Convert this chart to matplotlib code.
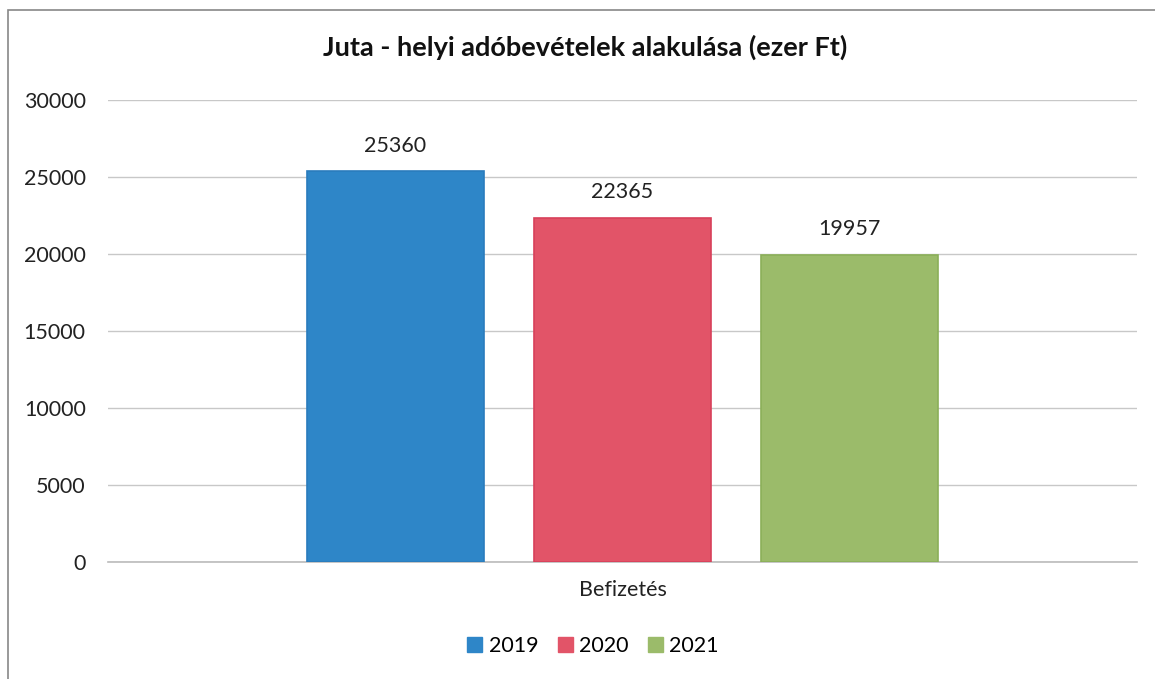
import matplotlib
matplotlib.use("Agg")
import matplotlib.pyplot as plt
from matplotlib.patches import Rectangle, Patch

categories = ["Befizetés"]
years = ["2019", "2020", "2021"]
values = [25360, 22365, 19957]
colors = ["#2E86C8", "#E25468", "#9BBB6A"]
edges = ["#2A7CBD", "#D8405A", "#8BAF58"]
yticks = [0, 5000, 10000, 15000, 20000, 25000, 30000]

plt.rcParams['font.family'] = ['Lato', 'DejaVu Sans']

fig = plt.figure(figsize=(11.55, 6.79), dpi=100)
ax = fig.add_axes([108/1155, 1-562/679, 1029/1155, 462/679])

offsets = [-0.221, 0.0, 0.221]
width = 0.172
fs = 15.5
for yr, v, c, e, off in zip(years, values, colors, edges, offsets):
    ax.bar(0 + off, v, width=width, color=c, edgecolor=e, linewidth=1.2, label=yr, zorder=3)
    ax.text(0 + off, v + 1000, str(v), ha='center', va='bottom', fontsize=fs, color='#222222')

ax.set_xlim(-0.5, 0.5)
ax.set_ylim(0, 30000)
ax.set_yticks(yticks)
ax.set_yticklabels([str(t) for t in yticks], fontsize=fs, color='#222222')
ax.set_xticks([0])
ax.set_xticklabels(categories, fontsize=fs, color='#222222')
ax.tick_params(axis='y', length=0, pad=16)
ax.tick_params(axis='x', length=0, pad=13)
ax.grid(axis='y', color='#C8C8C8', linewidth=1, zorder=0)
for s in ['top', 'right', 'left']:
    ax.spines[s].set_visible(False)
ax.spines['bottom'].set_color('#BBBBBB')
ax.spines['bottom'].set_linewidth(1.2)

fig.text(585/1155, 1-47/679, "Juta - helyi adóbevételek alakulása (ezer Ft)",
         ha='center', va='center', fontsize=19.5, fontweight='bold', color='#111111')

handles = [Patch(facecolor=c, edgecolor=c) for c in colors]
fig.legend(handles, years, loc='center', bbox_to_anchor=(593/1155, 1-646/679),
           ncol=3, frameon=False, fontsize=fs, handlelength=0.7, handleheight=0.7,
           columnspacing=0.9, handletextpad=0.3)

fig.patches.append(Rectangle((8/1155, -0.05), 1.1, 1-10/679 + 0.05, transform=fig.transFigure,
                             fill=False, edgecolor='#888888', linewidth=1.2))

fig.savefig("out.png", dpi=100)
